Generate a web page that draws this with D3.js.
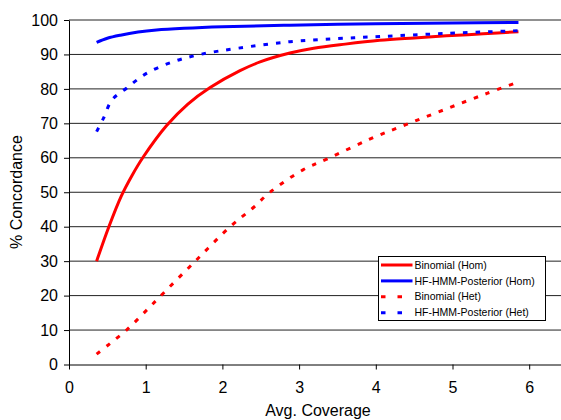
<!DOCTYPE html>
<html>
<head>
<meta charset="utf-8">
<script src="https://cdn.jsdelivr.net/npm/d3@7"></script>
<style>
  body { margin: 0; background: #fff; }
  svg { display: block; font-family: "Liberation Sans", Arial, sans-serif; }
  .tick text { font-size: 16px; fill: #000; }
  .tick line, .domain { stroke: #000; }
  .grid line { stroke: #222; stroke-width: 1; }
</style>
</head>
<body>
<script>
// values: [avg coverage, % concordance]
const binomialHom = [[0.36,30],[0.52,40],[0.68,48.8],[0.82,54.8],[0.97,60.3],[1.27,69.3],[1.55,75.6],[1.84,80.4],
  [2.23,85.3],[2.5,87.9],[2.88,90.4],[3.19,91.8],[3.6,93],[4.05,94.1],[4.5,94.8],[4.92,95.4],[5.4,96],[5.86,96.6]]
const hmmHom = [[0.36,93.5],[0.5,94.7],[0.67,95.6],[0.9,96.5],[1.14,97.1],[1.5,97.6],[2.0,98.05],
  [2.88,98.5],[4,98.9],[5,99.1],[5.86,99.3]]
const binomialHet = [[0.36,3],[0.53,6],[0.75,10],[1.0,15.5],[1.23,20.7],[1.66,30.3],[2.1,40],[2.4,45.5],
  [2.62,50],[3.05,56.5],[3.36,59.6],[3.92,65.4],[4.4,69.7],[4.92,74.2],[5.45,78.7],[5.86,82]]
const hmmHet = [[0.36,67.6],[0.45,71.5],[0.56,76.8],[0.75,80.2],[1.01,84.5],[1.36,87.9],[1.71,90],
  [2.2,91.8],[2.88,93.7],[3.5,94.6],[4.05,95.2],[4.92,96.1],[5.86,96.9]]

const seriesNames = ['Binomial (Hom)', 'HF-HMM-Posterior (Hom)', 'Binomial (Het)', 'HF-HMM-Posterior (Het)']
const xTicks = [0, 1, 2, 3, 4, 5, 6]
const yTicks = [0, 10, 20, 30, 40, 50, 60, 70, 80, 90, 100]

var width = 561,
    height = 420

var svg = d3.select('body').append('svg')
    .attr('width', width)
    .attr('height', height)

var x = d3.scaleLinear().domain([0, 6.5]).range([69, 69 + 6.5 * 76.7])
var y = d3.scaleLinear().domain([0, 100]).range([364.5, 20])

// gridlines
svg.append('g')
    .attr('class', 'grid')
    .selectAll('line')
    .data(yTicks.slice(1)).enter()
    .append('line')
    .attr('x1', x(0))
    .attr('x2', x(6.5))
    .attr('y1', d => y(d))
    .attr('y2', d => y(d))

svg.append('g')
    .attr('transform', `translate(0,${y(0)})`)
    .call(d3.axisBottom(x).tickValues(xTicks).tickSize(5).tickSizeOuter(0).tickPadding(12).tickFormat(d3.format('d')))

svg.append('g')
    .attr('transform', `translate(${x(0)},0)`)
    .call(d3.axisLeft(y).tickValues(yTicks).tickSize(5).tickSizeOuter(0).tickPadding(6))

// axis titles
svg.append('text')
    .attr('x', 318)
    .attr('y', 416)
    .attr('text-anchor', 'middle')
    .style('font-size', '16px')
    .text('Avg. Coverage')

svg.append('text')
    .attr('transform', 'translate(22,192) rotate(-90)')
    .attr('text-anchor', 'middle')
    .style('font-size', '16px')
    .text('% Concordance')

var line = d3.line()
    .x(d => x(d[0]))
    .y(d => y(d[1]))
    .curve(d3.curveCatmullRom.alpha(0.5))

var series = [
    {name: seriesNames[0], data: binomialHom, color: '#ff0000', dash: null},
    {name: seriesNames[1], data: hmmHom, color: '#0000ff', dash: null},
    {name: seriesNames[2], data: binomialHet, color: '#ff0000', dash: '4.5,8'},
    {name: seriesNames[3], data: hmmHet, color: '#0000ff', dash: '4.5,8'}
]

svg.selectAll('.series')
    .data(series).enter()
    .append('path')
    .attr('class', 'series')
    .attr('d', d => line(d.data))
    .attr('fill', 'none')
    .attr('stroke', d => d.color)
    .attr('stroke-width', 3)
    .attr('stroke-dasharray', d => d.dash)

//legend
var legend = svg.append('g')
    .attr('transform', 'translate(378.5,256.5)')

legend.append('rect')
    .attr('width', 167)
    .attr('height', 64)
    .attr('fill', '#fff')
    .attr('stroke', '#000')

var item = legend.selectAll('.legend')
    .data(series).enter()
    .append('g')
    .attr('class', 'legend')
    .attr('transform', (d, i) => `translate(0,${8.5 + i * 15.9})`)

item.append('line')
    .attr('x1', 2.5)
    .attr('x2', 34)
    .attr('stroke', d => d.color)
    .attr('stroke-width', 3)
    .attr('stroke-dasharray', d => d.dash ? '4.5,12' : null)

item.append('text')
    .attr('x', 36)
    .attr('dy', '0.35em')
    .style('font-size', '10.5px')
    .text(d => d.name)
</script>
</body>
</html>
